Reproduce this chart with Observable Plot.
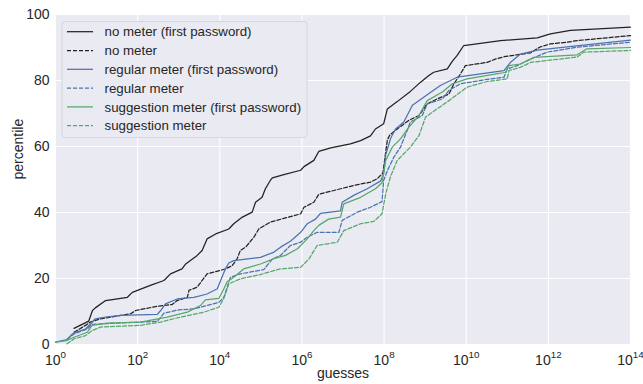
<!DOCTYPE html>
<html><head><meta charset="utf-8">
<script src="https://cdn.jsdelivr.net/npm/d3@7"></script>
<script src="https://cdn.jsdelivr.net/npm/@observablehq/plot@0.6"></script>
<style>
html,body{margin:0;padding:0;background:#fff;}
#wrap{position:relative;width:643px;height:384px;font-family:"Liberation Sans",Arial,sans-serif;}
#legend{position:absolute;left:0;top:0;pointer-events:none;}
</style></head><body><div id="wrap"></div>
<script>
// x values are log10(guesses); y values are percentiles
const seriesNames = ["no meter (first password)", "no meter", "regular meter (first password)", "regular meter", "suggestion meter (first password)", "suggestion meter"];

const noMeterFirstExp = [0.45,0.81,0.90,0.97,1.22,1.75,1.87,2.31,2.64,2.80,3.08,3.17,3.45,3.57,3.69,3.90,4.22,4.34,4.55,4.79,4.87,5.03,5.11,5.23,5.28,5.56,5.97,6.05,6.29,6.41,6.70,7.18,7.43,7.67,7.79,7.99,8.08,8.32,8.64,8.89,9.09,9.21,9.54,9.66,9.78,9.94,10.84,11.73,12.05,12.54,14];
const noMeterFirstPct = [4.9,7.1,10.3,11.1,13.3,14.3,15.8,17.9,19.4,21.4,22.9,24.4,27.0,28.5,32.0,33.5,35.0,36.6,38.6,40.1,43.1,44.6,47.2,49.7,50.5,51.5,52.8,53.9,55.8,58.5,59.6,60.8,61.8,63.2,65.3,66.9,71.4,73.6,76.7,79.5,81.5,82.5,83.5,85.8,87.6,90.6,92.1,92.9,94.1,95.2,96.2];

const noMeterExp = [0.45,0.73,0.85,1.10,1.83,1.95,2.48,2.84,2.96,3.21,3.25,3.45,3.69,4.14,4.30,4.42,4.50,4.63,4.83,4.95,5.23,5.97,6.05,6.29,6.41,7.26,7.67,7.83,7.97,8.08,8.14,8.32,8.60,8.85,9.05,9.29,9.58,9.70,9.86,9.98,10.51,10.71,10.92,11.24,11.57,11.79,12.05,12.46,12.70,14];
const noMeterPct = [3.7,5.8,6.8,7.8,9.3,10.3,11.6,12.1,13.3,14.3,16.4,17.4,21.4,22.9,23.9,25.9,28.5,29.5,32.5,35.0,37.1,39.6,41.6,43.1,45.5,48.2,49.2,50.2,51.9,62.0,63.5,65.3,67.9,69.4,72.9,74.4,75.9,79.0,82.0,84.5,85.5,86.5,87.2,87.8,88.4,90.1,91.1,91.6,92.1,93.6];

const regularFirstExp = [0,0.28,0.41,0.49,0.73,0.85,0.97,1.22,1.58,2.48,2.56,2.68,2.96,3.37,3.69,3.94,4.02,4.14,4.22,4.34,4.99,5.32,5.48,5.72,5.97,6.13,6.33,6.45,6.94,6.98,7.26,7.59,7.91,7.99,8.04,8.16,8.28,8.48,8.69,9.05,9.37,9.78,10.92,11.08,11.32,11.73,12.74,14];
const regularFirstPct = [0.7,1.5,3.2,3.7,4.7,6.2,7.8,8.3,8.8,9.1,10.3,12.3,13.8,14.3,15.3,16.9,19.4,23.0,24.7,25.4,26.4,28.0,29.5,31.3,34.0,36.6,38.0,39.7,40.5,43.1,45.2,47.2,49.5,51.7,57.5,62.5,65.3,67.4,72.5,75.7,78.5,81.0,83.0,85.5,88.0,89.2,90.6,92.2];

const regularExp = [0.28,0.45,0.77,0.89,1.50,2.48,2.64,3.00,3.37,3.69,3.98,4.10,4.18,4.26,4.50,5.07,5.28,5.48,5.72,5.97,6.13,6.37,6.90,6.98,7.35,7.67,7.95,7.99,8.08,8.24,8.40,8.56,8.64,8.93,9.05,9.42,9.58,9.86,10.59,10.92,11.00,11.24,11.57,11.97,12.70,14];
const regularPct = [1.5,3.2,4.7,6.1,6.5,7.0,9.5,10.5,10.8,11.8,12.8,14.3,17.4,20.4,21.4,22.7,25.9,27.0,30.0,31.0,32.5,34.0,34.0,37.6,40.1,41.6,43.3,49.7,52.7,56.8,59.8,64.8,67.4,69.4,72.9,74.4,77.0,79.0,80.5,81.0,83.5,84.5,86.5,88.6,90.1,91.6];

const suggestionFirstExp = [0,0.28,0.45,0.77,0.89,1.26,2.07,2.72,3.21,3.53,3.65,3.98,4.10,4.18,4.34,4.58,4.99,5.32,5.60,5.89,6.13,6.29,6.41,6.65,6.94,7.02,7.43,7.79,7.95,8.04,8.20,8.40,8.60,8.85,9.05,9.42,9.66,10.02,10.84,10.96,11.04,11.32,11.65,12.70,12.94,14];
const suggestionFirstPct = [0.7,1.2,2.2,3.7,5.8,6.5,6.8,8.3,9.8,11.8,13.5,14.0,16.9,19.0,20.4,22.9,24.4,26.0,27.0,29.0,32.0,34.5,36.1,38.0,38.6,42.6,44.6,47.2,49.0,55.8,59.8,62.3,65.8,69.4,73.9,76.5,79.0,80.5,82.2,82.5,84.5,85.0,87.0,87.8,89.6,90.0];

const suggestionExp = [0.28,0.45,0.73,0.89,1.10,2.07,2.56,3.04,3.61,3.98,4.10,4.22,4.50,4.99,5.32,5.48,5.97,6.17,6.37,6.86,7.02,7.43,7.75,7.95,8.04,8.16,8.32,8.64,8.85,9.01,9.29,9.58,9.86,10.02,10.51,11.00,11.04,11.32,11.57,12.70,12.86,14];
const suggestionPct = [0.2,1.7,2.7,4.2,5.3,5.8,6.8,8.3,9.8,11.3,14.0,18.4,19.9,21.2,22.4,22.9,23.4,25.9,30.0,31.0,34.5,36.6,37.3,39.6,45.7,51.0,55.8,59.8,63.3,68.9,71.4,73.9,76.5,78.0,79.7,80.5,83.0,84.0,85.5,87.1,88.6,89.1];

const xTickExps = [0,2,4,6,8,10,12,14];
const yTicks = [0,20,40,60,80,100];

const seriesExp = [noMeterFirstExp, noMeterExp, regularFirstExp, regularExp, suggestionFirstExp, suggestionExp];
const seriesPct = [noMeterFirstPct, noMeterPct, regularFirstPct, regularPct, suggestionFirstPct, suggestionPct];
const seriesColor = ["#222222","#222222","#4c72b0","#4c72b0","#55a868","#55a868"];
const seriesDash = [null,"4,2",null,"4,2",null,"4,2"];

const tables = seriesNames.map((name, i) =>
  seriesExp[i].map((e, j) => ({series: name, guesses: Math.pow(10, e), pct: seriesPct[i][j]})));
const xTicks = xTickExps.map(e => Math.pow(10, e));

const lineMarks = tables.map((rows, i) => Plot.line(rows, {
  x: "guesses", y: "pct", stroke: seriesColor[i], strokeWidth: 1.25,
  strokeDasharray: seriesDash[i] || undefined
}));

const chart = Plot.plot({
  width: 643, height: 384,
  marginLeft: 55, marginRight: 13, marginTop: 14, marginBottom: 40,
  style: {fontFamily: "'Liberation Sans', Arial, sans-serif", fontSize: "14px", color: "#262626", background: "white", overflow: "visible"},
  x: {type: "log", domain: [1, 1e14], label: null},
  y: {domain: [0, 100], label: null},
  marks: [
    Plot.frame({fill: "#eaeaf2", stroke: "none"}),
    Plot.gridX(xTicks, {stroke: "white", strokeOpacity: 1, strokeWidth: 1.1}),
    Plot.gridY(yTicks, {stroke: "white", strokeOpacity: 1, strokeWidth: 1.1}),
    Plot.axisX(xTicks, {tickSize: 0, tickPadding: 11, fontSize: 14, label: null,
      tickFormat: d => "10^" + Math.round(Math.log10(d))}),
    Plot.axisY(yTicks, {tickSize: 0, tickPadding: 6, fontSize: 14, label: null}),
    ...lineMarks,
    Plot.text(["guesses"], {frameAnchor: "bottom", dy: 33, fontSize: 14, fill: "#262626"}),
    Plot.text(["percentile"], {frameAnchor: "left", dx: -37, rotate: -90, fontSize: 14, fill: "#262626"})
  ]
});

// superscript exponents on the x tick labels
const NS = "http://www.w3.org/2000/svg";
chart.querySelectorAll("text").forEach(t => {
  const m = t.textContent.match(/^10\^(\d+)$/);
  if (m) {
    t.textContent = "10";
    const ts = document.createElementNS(NS, "tspan");
    ts.setAttribute("dy", "-0.8em");
    ts.setAttribute("font-size", "0.7em");
    ts.textContent = m[1];
    t.appendChild(ts);
  }
});

const wrap = document.getElementById("wrap");
wrap.appendChild(chart);

// legend
const leg = d3.select(wrap).append("svg").attr("id", "legend").attr("width", 643).attr("height", 384);
leg.append("rect").attr("x", 62).attr("y", 21.5).attr("width", 245).attr("height", 116)
  .attr("rx", 3).attr("fill", "#eaeaf2").attr("stroke", "#d6d6de").attr("stroke-width", 1);
seriesNames.forEach((name, i) => {
  const cy = 31.7 + i * 18.8;
  leg.append("line").attr("x1", 67).attr("x2", 93).attr("y1", cy).attr("y2", cy)
    .attr("stroke", seriesColor[i]).attr("stroke-width", 1.25)
    .attr("stroke-dasharray", seriesDash[i]);
  leg.append("text").attr("x", 104.5).attr("y", cy).attr("dy", "0.35em")
    .attr("font-family", "'Liberation Sans', Arial, sans-serif").attr("font-size", 13.3)
    .attr("fill", "#262626").text(name);
});
</script></body></html>
